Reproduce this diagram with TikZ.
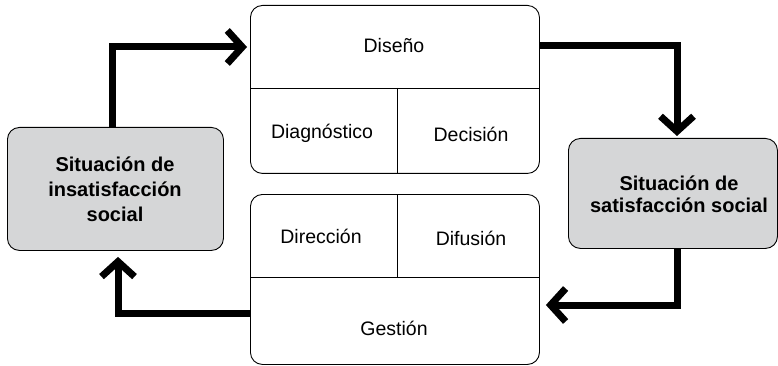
\documentclass[tikz,border=0pt]{standalone}
\usepackage{fontspec}
\setmainfont{Liberation Sans}
\usetikzlibrary{arrows.meta}
\definecolor{boxgray}{HTML}{D5D6D7}
\begin{document}
\begin{tikzpicture}[x=1pt,y=-1pt,
  stage/.style={draw, rounded corners=12pt, line width=0.9pt, inner sep=0pt, anchor=north west},
  state/.style={draw, fill=boxgray, rounded corners=12pt, line width=0.9pt, inner sep=0pt, anchor=north west},
  divider/.style={line width=0.9pt},
  cell/.style={font=\fontsize{19.5}{23}\selectfont, anchor=base, inner sep=0pt},
  statetext/.style={font=\fontsize{20}{24}\selectfont\bfseries, align=center, inner sep=0pt},
  flow/.style={line width=7pt, -{Straight Barb[length=15pt, width=33pt]}}]
\useasboundingbox (0,0) rectangle (778,366);

% two stage boxes in the middle
\node[stage, minimum width=289pt, minimum height=168pt] (dis) at (250,5) {};
\node[stage, minimum width=289pt, minimum height=170pt] (gest) at (250,194) {};
\draw[divider] (dis.west |- 0,88) -- (dis.east |- 0,88);
\draw[divider] (397,88) -- (dis.south -| 397,0);
\draw[divider] (gest.west |- 0,277) -- (gest.east |- 0,277);
\draw[divider] (gest.north -| 397,0) -- (397,277);

\node[cell] (t-dis)  at (394,53)  {Diseño};
\node[cell] (t-diag) at (322,139) {Diagnóstico};
\node[cell] (t-dec)  at (471,142) {Decisión};
\node[cell] (t-dir)  at (321,243) {Dirección};
\node[cell] (t-dif)  at (471,245) {Difusión};
\node[cell] (t-gest) at (394,335) {Gestión};

% the two situations
\node[state, minimum width=216pt, minimum height=123pt] (insat) at (7,127) {};
\node[state, minimum width=209pt, minimum height=110pt] (sat) at (568,138) {};
\node[statetext, font=\fontsize{20}{25}\selectfont\bfseries] (t-insat) at (115,189.5)
  {Situación de\\insatisfacción\\social};
\node[statetext, font=\fontsize{20}{22}\selectfont\bfseries] (t-sat) at (679,194.5)
  {Situación de\\satisfacción social};

% cycle of thick arrows
\coordinate (k1) at (112,47);
\coordinate (k2) at (677,46);
\coordinate (k3) at (677,305);
\coordinate (k4) at (118,313);
\draw[flow] (insat.north -| k1) |- ([xshift=-3pt]dis.west |- k1);
\draw[flow] (dis.east |- k2) -| ([yshift=2pt]sat.north -| k2);
\draw[flow] (sat.south -| k3) |- ([xshift=6pt]gest.east |- k3);
\draw[flow] (gest.west |- k4) -| ([yshift=-6pt]insat.south -| k4);
\end{tikzpicture}
\end{document}
